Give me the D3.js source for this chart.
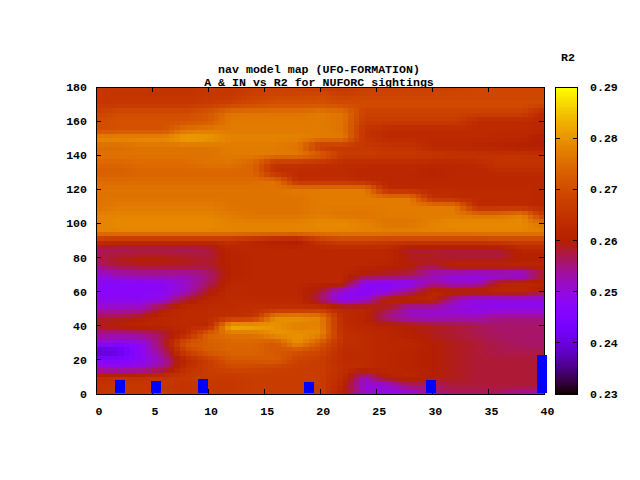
<!DOCTYPE html>
<html lang="en">
<head>
<meta charset="UTF-8">
<title>nav model map</title>
<style>
  html, body { margin: 0; padding: 0; background: #fff; }
  svg { display: block; }
  text { font-family: "Liberation Mono", "DejaVu Sans Mono", monospace; font-weight: bold; font-size: 11.6px; fill: #000; }
</style>
</head>
<body>
<svg id="chart" width="640" height="480"></svg>
<script src="https://d3js.org/d3.v7.min.js"></script>
<script>
const titleLines = ["nav model map (UFO-FORMATION)", "A & IN vs R2 for NUFORC sightings"];
const colorbarLabel = "R2";
const xCoords = [0,2,4,6,8,10,12,14,16,18,20,22,24,26,28,30,32,34,36,38,40];
const yCoords = [180,175,170,165,160,155,150,145,140,135,130,125,120,115,110,105,100,95,90,85,80,75,70,65,60,55,50,45,40,35,30,25,20,15,10,5,0];
const xTicks = [0,5,10,15,20,25,30,35,40];
const yTicks = [0,20,40,60,80,100,120,140,160,180];
const cbTicks = [0.23,0.24,0.25,0.26,0.27,0.28,0.29];

// R2 in thousandths, one row per yCoords entry, one column per xCoords entry
const r2Rows = [
  [266,266,266,265,265,266,266,266,267,267,266,265,267,267,267,267,268,269,269,269,269],
  [266,265,265,265,265,266,266,268,269,269,270,268,269,269,269,269,269,269,269,269,269],
  [266,266,266,266,266,267,268,270,271,271,271,270,270,270,270,270,270,270,270,270,270],
  [268,270,270,270,270,272,276,276,276,276,277,276,268,268,268,268,268,268,268,268,262],
  [270,271,271,271,271,272,277,277,277,277,277,276,267,267,267,267,267,263,263,263,262],
  [270,271,271,271,276,277,277,277,277,277,277,276,265,263,263,263,263,263,263,263,262],
  [279,279,279,279,282,281,278,278,278,278,277,277,265,263,263,263,263,263,262,262,259],
  [275,275,276,276,276,276,277,277,277,276,266,266,266,265,265,262,262,261,261,260,260],
  [276,276,276,276,276,276,277,277,277,277,274,267,267,266,266,266,265,265,265,265,264],
  [274,274,275,275,275,276,276,274,265,265,264,263,263,263,263,262,262,263,265,265,265],
  [273,273,274,274,274,274,274,274,264,263,263,263,262,262,262,261,262,262,263,263,263],
  [275,275,275,275,275,275,275,275,276,264,264,264,263,262,262,262,262,262,262,262,262],
  [276,276,276,276,276,276,276,276,276,277,277,277,277,263,263,263,263,263,263,263,262],
  [276,276,276,276,276,276,276,276,276,276,277,277,277,277,277,264,263,263,263,263,262],
  [276,277,277,277,277,277,276,276,276,276,277,277,277,277,277,277,277,263,263,263,262],
  [278,278,278,278,278,278,277,276,276,276,277,276,276,277,277,277,277,276,276,278,266],
  [278,279,279,279,279,279,278,278,278,278,279,279,278,276,276,278,279,279,279,279,276],
  [278,278,278,278,278,278,278,278,278,278,278,278,278,278,278,278,278,278,278,278,278],
  [265,264,264,264,264,264,264,262,260,259,266,268,268,267,267,267,267,267,268,268,268],
  [256,256,256,256,256,257,262,262,262,262,262,262,262,262,258,258,258,258,258,262,262],
  [257,259,260,260,259,258,261,262,262,262,262,262,262,262,259,259,258,258,258,260,260],
  [256,258,259,259,259,258,261,262,262,262,262,262,262,261,260,258,262,262,262,262,262],
  [250,252,253,253,253,255,261,262,262,262,262,262,259,258,257,252,250,249,249,249,258],
  [247,247,247,248,251,256,262,262,262,262,262,262,248,247,247,254,251,252,261,262,262],
  [247,247,247,248,252,259,263,262,262,262,258,249,247,249,255,262,262,262,262,262,259],
  [248,248,248,250,258,262,263,263,263,263,256,248,250,262,262,262,253,249,249,249,249],
  [252,252,253,260,263,263,263,264,264,264,265,262,262,258,252,252,250,249,249,249,249],
  [258,258,260,262,263,263,264,265,279,280,278,263,261,254,252,251,252,252,255,255,255],
  [259,261,262,262,263,262,284,283,280,277,278,263,262,261,260,259,258,257,256,256,256],
  [255,254,255,257,262,274,276,276,280,280,279,264,263,262,260,259,258,257,256,256,256],
  [250,247,248,258,272,273,274,274,272,280,272,264,263,262,262,260,259,258,257,256,256],
  [237,240,248,256,268,273,274,274,272,271,269,263,263,262,261,260,259,258,257,257,257],
  [246,245,247,253,262,267,272,272,273,268,267,263,263,262,261,260,259,258,258,258,258],
  [251,250,251,255,264,267,269,269,268,267,267,264,263,262,261,260,259,258,258,258,258],
  [263,264,264,265,266,267,266,267,267,267,267,263,252,261,262,260,259,258,258,258,258],
  [265,266,266,266,265,266,266,267,267,267,267,262,250,250,256,256,258,258,258,258,258],
  [265,266,266,266,265,266,266,267,267,267,267,260,252,250,250,255,256,256,256,253,253]
];

// blue boxes along the bottom
const boxX = [2.1,5.35,9.55,19.0,29.9,39.8];
const boxTop = [8.2,7.6,8.8,7.0,8.2,22.9];
const boxBase = 0.6;
const boxWidth = 0.89;

const svg = d3.select("#chart");
const x = d3.scaleLinear().domain([0,40]).range([96,544.5]);
const y = d3.scaleLinear().domain([0,180]).range([394,87]);
const cb = d3.scaleLinear().domain([0.23,0.29]).range([394,87]);

// gnuplot default palette, rgbformulae 7,5,15
function palette(v) {
  const t = Math.max(0, Math.min(1, (v - 0.23) / 0.06));
  const r = Math.sqrt(t), g = t * t * t, b = Math.max(0, Math.sin(2 * Math.PI * t));
  return d3.rgb(r * 255, g * 255, b * 255).formatHex();
}

// title goes first, the map paints over its lower edge
svg.selectAll("text.title").data(titleLines).join("text")
  .attr("class", "title")
  .attr("x", 319).attr("y", (d, i) => 73 + i * 13)
  .attr("text-anchor", "middle")
  .text(d => d);

// pm3d style cells, each data cell split up and shaded bilinearly
const subX = 4, subY = 2;
const cells = [];
for (let r = 0; r < yCoords.length - 1; r++) {
  for (let c = 0; c < xCoords.length - 1; c++) {
    for (let i = 0; i < subX; i++) {
      for (let j = 0; j < subY; j++) {
        const u = (i + 0.5) / subX, w = (j + 0.5) / subY;
        const top = r2Rows[r][c] * (1 - u) + r2Rows[r][c + 1] * u;
        const bot = r2Rows[r + 1][c] * (1 - u) + r2Rows[r + 1][c + 1] * u;
        cells.push({
          x0: xCoords[c] + (xCoords[c + 1] - xCoords[c]) * i / subX,
          x1: xCoords[c] + (xCoords[c + 1] - xCoords[c]) * (i + 1) / subX,
          y0: yCoords[r] + (yCoords[r + 1] - yCoords[r]) * j / subY,
          y1: yCoords[r] + (yCoords[r + 1] - yCoords[r]) * (j + 1) / subY,
          v: (top * (1 - w) + bot * w) / 1000
        });
      }
    }
  }
}
svg.append("g").attr("shape-rendering", "crispEdges")
  .selectAll("rect").data(cells).join("rect")
  .attr("x", d => x(d.x0)).attr("y", d => y(d.y0))
  .attr("width", d => x(d.x1) - x(d.x0) + 0.5)
  .attr("height", d => y(d.y1) - y(d.y0) + 0.5)
  .attr("fill", d => palette(d.v));

// border and inward ticks
const axes = svg.append("g").attr("stroke", "#000").attr("fill", "none").attr("shape-rendering", "crispEdges");
axes.append("rect").attr("x", 96).attr("y", 87).attr("width", 448).attr("height", 307).attr("stroke-width", 1);
xTicks.forEach(t => {
  axes.append("line").attr("x1", x(t)).attr("x2", x(t)).attr("y1", 394).attr("y2", 389);
  axes.append("line").attr("x1", x(t)).attr("x2", x(t)).attr("y1", 87).attr("y2", 92);
});
yTicks.forEach(t => {
  axes.append("line").attr("x1", 96).attr("x2", 101).attr("y1", y(t)).attr("y2", y(t));
  axes.append("line").attr("x1", 544).attr("x2", 539).attr("y1", y(t)).attr("y2", y(t));
});

svg.selectAll("text.xlab").data(xTicks).join("text")
  .attr("class", "xlab")
  .attr("x", d => x(d) + 3).attr("y", 415)
  .attr("text-anchor", "middle")
  .text(d => d);
svg.selectAll("text.ylab").data(yTicks).join("text")
  .attr("class", "ylab")
  .attr("x", 87).attr("y", d => y(d) + 4)
  .attr("text-anchor", "end")
  .text(d => d);

// blue boxes sit on top of the border
svg.append("g").attr("shape-rendering", "crispEdges")
  .selectAll("rect").data(boxX).join("rect")
  .attr("x", d => x(d - boxWidth / 2))
  .attr("width", x(boxWidth) - x(0))
  .attr("y", (d, i) => y(boxTop[i]))
  .attr("height", (d, i) => y(boxBase) - y(boxTop[i]))
  .attr("fill", "#0000ff");

// colour bar
const cbSteps = d3.range(0, 128).map(i => 0.23 + (i + 0.5) * 0.06 / 128);
svg.append("g").attr("shape-rendering", "crispEdges")
  .selectAll("rect").data(cbSteps).join("rect")
  .attr("x", 556).attr("width", 21)
  .attr("y", d => cb(d + 0.03 / 128))
  .attr("height", cb(0) - cb(0.06 / 128) + 0.5)
  .attr("fill", d => palette(d));
const cbAxis = svg.append("g").attr("stroke", "#000").attr("fill", "none").attr("shape-rendering", "crispEdges");
cbAxis.append("rect").attr("x", 555.5).attr("y", 87).attr("width", 22).attr("height", 307);
cbTicks.forEach(t => {
  cbAxis.append("line").attr("x1", 556).attr("x2", 560).attr("y1", cb(t)).attr("y2", cb(t));
  cbAxis.append("line").attr("x1", 577).attr("x2", 573).attr("y1", cb(t)).attr("y2", cb(t));
});
svg.selectAll("text.cblab").data(cbTicks).join("text")
  .attr("class", "cblab")
  .attr("x", 590).attr("y", d => cb(d) + 4)
  .text(d => d.toFixed(2));
svg.append("text").attr("x", 568).attr("y", 61).attr("text-anchor", "middle").text(colorbarLabel);
</script>
</body>
</html>
